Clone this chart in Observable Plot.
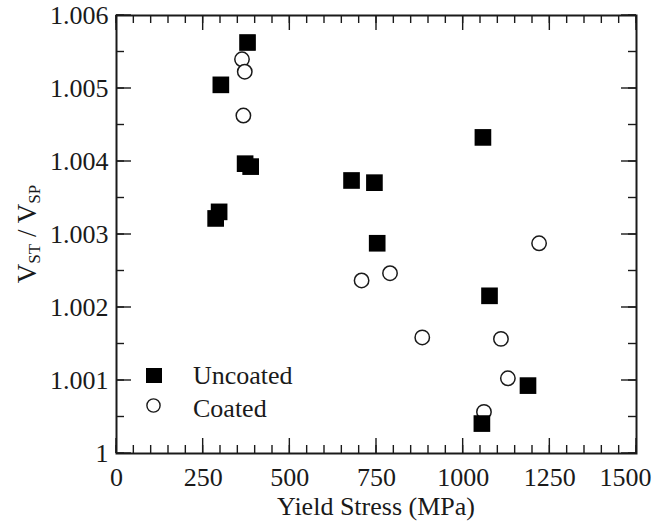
<!DOCTYPE html>
<html>
<head>
<meta charset="utf-8">
<script src="https://cdn.jsdelivr.net/npm/d3@7"></script>
<script src="https://cdn.jsdelivr.net/npm/@observablehq/plot@0.6"></script>
<style>
  html, body { margin: 0; padding: 0; background: #fff; }
  #chart { position: relative; width: 652px; height: 529px; }
</style>
</head>
<body>
<div id="chart"></div>
<script>
// ---- data ----
const uncoatedX = [378, 301, 371, 387, 296, 286, 678, 744, 752, 1057, 1076, 1187, 1054];
const uncoatedY = [1.00563, 1.00505, 1.00397, 1.00393, 1.00331, 1.00322, 1.00374, 1.00371, 1.00288, 1.00433, 1.00216, 1.00093, 1.00041];
const coatedX = [362, 370, 366, 1219, 707, 789, 882, 1109, 1129, 1060];
const coatedY = [1.00540, 1.00523, 1.00463, 1.00288, 1.00237, 1.00247, 1.00159, 1.00157, 1.00103, 1.00057];

const xTicks = [0, 250, 500, 750, 1000, 1250, 1500];
const xTickLabels = ["0", "250", "500", "750", "1000", "1250", "1500"];
const yTicks = [1, 1.001, 1.002, 1.003, 1.004, 1.005, 1.006];
const yTickLabels = ["1", "1.001", "1.002", "1.003", "1.004", "1.005", "1.006"];
const xMinor = d3.range(0, 1501, 50);
const yMinor = d3.range(0, 13).map(i => 1 + i * 0.0005);
const seriesNames = ["Uncoated", "Coated"];

const uncoated = uncoatedX.map((x, i) => ({x, y: uncoatedY[i]}));
const coated = coatedX.map((x, i) => ({x, y: coatedY[i]}));

const W = 652, H = 529;
const mL = 116, mR = 16, mT = 15, mB = 76;
const ink = "#1a1a1a";
const font = "'Liberation Serif', 'Times New Roman', serif";
const MAJ = 15, MIN = 8;

const lastX = xTicks[xTicks.length - 1];

const chart = Plot.plot({
  width: W,
  height: H,
  marginLeft: mL,
  marginRight: mR,
  marginTop: mT,
  marginBottom: mB,
  x: {domain: [0, 1500]},
  y: {domain: [1, 1.006]},
  style: {fontFamily: font, fontSize: "26px", color: ink, background: "#fff"},
  marks: [
    Plot.frame({stroke: ink, strokeWidth: 2}),
    Plot.axisX(xTicks.slice(0, -1), {anchor: "bottom", tickSize: 0, tickPadding: 14, label: null,
      tickFormat: d => xTickLabels[xTicks.indexOf(d)], fill: ink}),
    Plot.axisX([lastX], {anchor: "bottom", tickSize: 0, tickPadding: 14, label: null, dx: -11,
      tickFormat: d => xTickLabels[xTicks.indexOf(d)], fill: ink}),
    Plot.axisY(yTicks, {anchor: "left", tickSize: 0, tickPadding: 8, label: null,
      tickFormat: d => yTickLabels[yTicks.indexOf(d)], fill: ink}),
    Plot.dot(coated, {x: "x", y: "y", symbol: "circle", r: 7.2, fill: "#fff", stroke: ink, strokeWidth: 1.5}),
    Plot.dot(uncoated, {x: "x", y: "y", symbol: "square", r: 9.4, fill: "#000", stroke: "none"})
  ]
});

document.getElementById("chart").appendChild(chart);

const svgSel = d3.select(chart);
const scX = chart.scale("x"), scY = chart.scale("y");
const pTop = mT, pBottom = H - mB, pLeft = mL, pRight = W - mR;

// inward ticks on all four sides, positioned through Plot's own scales
const tickG = svgSel.append("g").attr("stroke", ink).attr("stroke-width", 1.4).attr("fill", "none");
function drawXTick(v, len) {
  const px = scX.apply(v);
  tickG.append("line").attr("x1", px).attr("x2", px).attr("y1", pBottom).attr("y2", pBottom - len);
  tickG.append("line").attr("x1", px).attr("x2", px).attr("y1", pTop).attr("y2", pTop + len);
}
function drawYTick(v, len) {
  const py = scY.apply(v);
  tickG.append("line").attr("y1", py).attr("y2", py).attr("x1", pLeft).attr("x2", pLeft + len);
  tickG.append("line").attr("y1", py).attr("y2", py).attr("x1", pRight).attr("x2", pRight - len);
}
xMinor.forEach(v => drawXTick(v, MIN));
xTicks.forEach(v => drawXTick(v, MAJ));
yMinor.forEach(v => drawYTick(v, MIN));
yTicks.forEach(v => drawYTick(v, MAJ));

// x-axis label
svgSel.append("text")
  .attr("x", (pLeft + pRight) / 2)
  .attr("y", 515)
  .attr("text-anchor", "middle")
  .attr("font-family", font)
  .attr("font-size", 26)
  .attr("fill", ink)
  .text("Yield Stress (MPa)");

// y-axis label with subscripts
const yLab = svgSel.append("text")
  .attr("transform", `translate(36,${(pTop + pBottom) / 2}) rotate(-90)`)
  .attr("text-anchor", "middle")
  .attr("font-family", font)
  .attr("font-size", 27)
  .attr("fill", ink);
yLab.append("tspan").text("V");
yLab.append("tspan").attr("font-size", 17).attr("dy", 4).text("ST");
yLab.append("tspan").attr("dy", -4).text(" / V");
yLab.append("tspan").attr("font-size", 17).attr("dy", 4).text("SP");

// legend
const legendG = svgSel.append("g").attr("font-family", font).attr("font-size", 26).attr("fill", ink).attr("text-anchor", "start");
legendG.append("rect").attr("x", 146).attr("y", 368).attr("width", 16).attr("height", 15).attr("fill", "#000");
legendG.append("text").attr("x", 193).attr("y", 384).attr("text-anchor", "start").text(seriesNames[0]);
legendG.append("circle").attr("cx", 153.5).attr("cy", 405.5).attr("r", 6.6).attr("fill", "#fff").attr("stroke", ink).attr("stroke-width", 1.4);
legendG.append("text").attr("x", 193).attr("y", 417).attr("text-anchor", "start").text(seriesNames[1]);
</script>
</body>
</html>
